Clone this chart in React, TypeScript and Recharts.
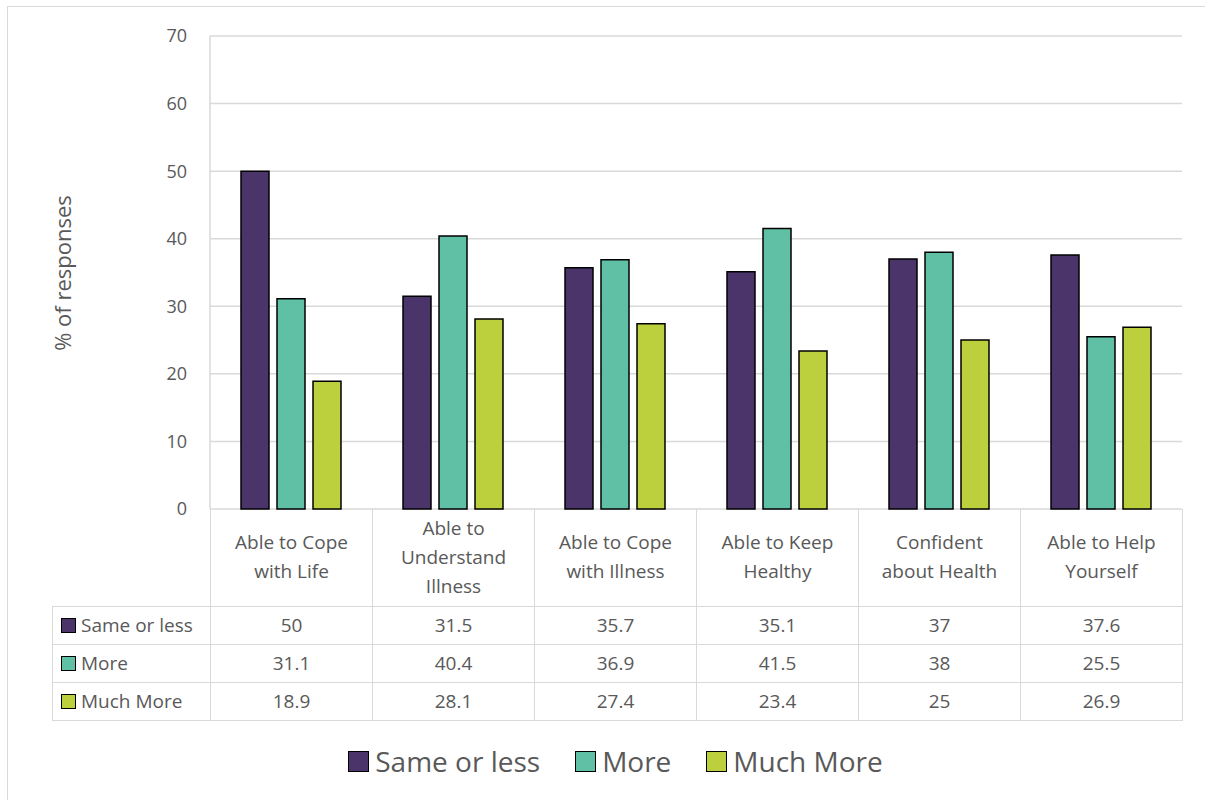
import React from "react";
import { BarChart, Bar, XAxis, YAxis, CartesianGrid } from "recharts";

const categories = [
  "Able to Cope\nwith Life",
  "Able to\nUnderstand\nIllness",
  "Able to Cope\nwith Illness",
  "Able to Keep\nHealthy",
  "Confident\nabout Health",
  "Able to Help\nYourself",
];
const sameOrLess = [50, 31.5, 35.7, 35.1, 37, 37.6];
const more = [31.1, 40.4, 36.9, 41.5, 38, 25.5];
const muchMore = [18.9, 28.1, 27.4, 23.4, 25, 26.9];
const yTicks = [0, 10, 20, 30, 40, 50, 60, 70];

const series = [
  { key: "same", name: "Same or less", color: "#4A346A", values: sameOrLess },
  { key: "more", name: "More", color: "#60C0A6", values: more },
  { key: "much", name: "Much More", color: "#BCD03E", values: muchMore },
];

const data = categories.map((name, i) => ({
  name,
  same: sameOrLess[i],
  more: more[i],
  much: muchMore[i],
}));

const FONT = "'Open Sans', sans-serif";
const TXT = "#595959";
const GRID = "#d9d9d9";

// plot area in page pixels
const PL = 210;
const PR = 1182;
const PT = 36;
const PB = 509;
const COL = (PR - PL) / categories.length;

const cellBorder = `1.5px solid ${GRID}`;

export default function App() {
  return (
    <div style={{ position: "relative", width: 1205, height: 800, background: "#fff", overflow: "hidden", fontFamily: FONT }}>
      <style>{`body{margin:0}`}</style>
      <div style={{ position: "absolute", left: 7, top: 6, width: 1300, height: 900, borderLeft: cellBorder, borderTop: cellBorder }} />
      <BarChart
        width={1205}
        height={800}
        data={data}
        margin={{ top: PT, right: 1205 - PR, bottom: 800 - PB, left: PL - 60 }}
        barSize={28}
        barGap={8}
      >
        <CartesianGrid vertical={false} stroke={GRID} strokeWidth={1.5} />
        <XAxis dataKey="name" hide />
        <YAxis
          domain={[0, 70]}
          ticks={yTicks}
          width={60}
          axisLine={{ stroke: GRID, strokeWidth: 1.5 }}
          tickLine={false}
          tickSize={0}
          tickMargin={23}
          tick={{ fontSize: 18, fill: TXT, fontFamily: FONT }}
        />
        <YAxis
          yAxisId="r"
          orientation="right"
          width={0}
          tick={false}
          tickLine={false}
          axisLine={{ stroke: GRID, strokeWidth: 1.5 }}
        />
        {series.map((s) => (
          <Bar
            key={s.key}
            dataKey={s.key}
            name={s.name}
            fill={s.color}
            stroke="#000"
            strokeWidth={1.5}
            isAnimationActive={false}
          />
        ))}
      </BarChart>

      <div
        style={{
          position: "absolute",
          left: 62,
          top: (PT + PB) / 2,
          transform: "translate(-50%, -50%) rotate(-90deg)",
          whiteSpace: "nowrap",
          fontSize: 22,
          color: TXT,
        }}
      >
        % of responses
      </div>

      <table
        style={{
          position: "absolute",
          left: 52,
          top: PB,
          borderCollapse: "collapse",
          tableLayout: "fixed",
          width: PR - 52,
          color: TXT,
          fontSize: 19,
        }}
      >
        <colgroup>
          <col style={{ width: PL - 52 }} />
          {categories.map((c) => (
            <col key={c} style={{ width: COL }} />
          ))}
        </colgroup>
        <tbody>
          <tr style={{ height: 97 }}>
            <td style={{ border: "none", padding: 0 }} />
            {categories.map((c) => (
              <td
                key={c}
                style={{
                  borderLeft: cellBorder,
                  borderRight: cellBorder,
                  borderBottom: cellBorder,
                  textAlign: "center",
                  verticalAlign: "middle",
                  whiteSpace: "pre-line",
                  lineHeight: "29px",
                  padding: 0,
                }}
              >
                {c}
              </td>
            ))}
          </tr>
          {series.map((s) => (
            <tr key={s.key} style={{ height: 38 }}>
              <td style={{ border: cellBorder, padding: "0 0 0 8px", whiteSpace: "nowrap" }}>
                <span
                  style={{
                    display: "inline-block",
                    width: 13,
                    height: 13,
                    background: s.color,
                    border: "1.5px solid #000",
                    marginRight: 5,
                    verticalAlign: "-1px",
                  }}
                />
                {s.name}
              </td>
              {s.values.map((v, i) => (
                <td key={i} style={{ border: cellBorder, textAlign: "center", padding: 0 }}>
                  {v}
                </td>
              ))}
            </tr>
          ))}
        </tbody>
      </table>

      <div
        style={{
          position: "absolute",
          top: 741,
          left: 0,
          width: 1205,
          boxSizing: "border-box",
          paddingLeft: 26,
          display: "flex",
          justifyContent: "center",
          gap: 35,
          color: TXT,
          fontSize: 28,
          lineHeight: "40px",
        }}
      >
        {series.map((s) => (
          <div key={s.key} style={{ display: "flex", alignItems: "center" }}>
            <span style={{ display: "inline-block", width: 19, height: 19, background: s.color, border: "1.5px solid #000", marginRight: 6 }} />
            <span>{s.name}</span>
          </div>
        ))}
      </div>
    </div>
  );
}
